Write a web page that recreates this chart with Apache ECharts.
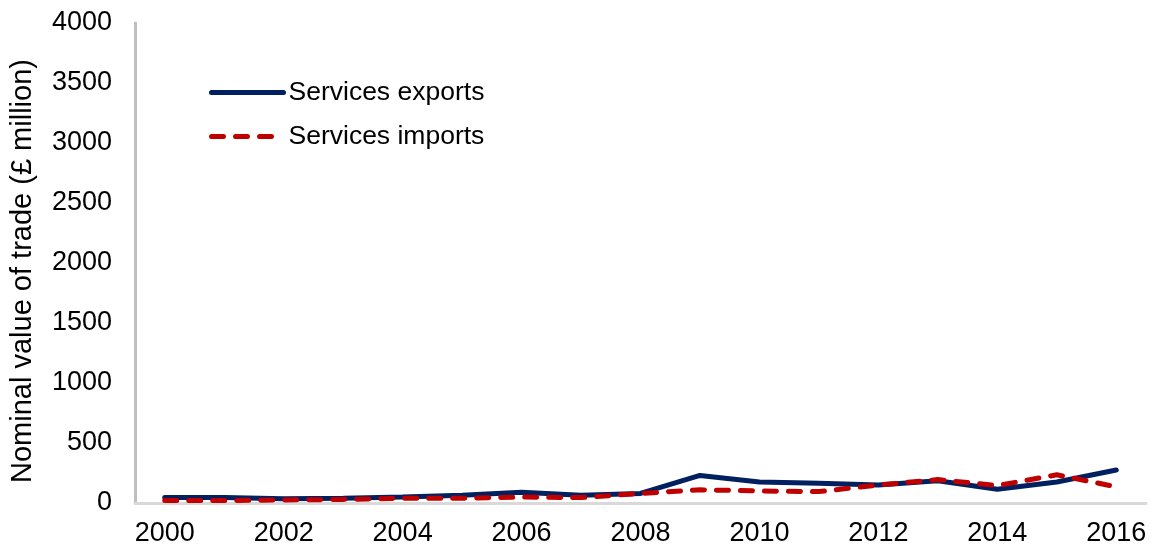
<!DOCTYPE html>
<html>
<head>
<meta charset="utf-8">
<script src="https://cdn.jsdelivr.net/npm/echarts@6/dist/echarts.min.js"></script>
<style>
  html, body { margin: 0; padding: 0; background: #fff; }
  #chart { width: 1156px; height: 549px; }
</style>
</head>
<body>
<div id="chart"></div>
<script>
const years = ['2000', '2001', '2002', '2003', '2004', '2005', '2006', '2007', '2008',
  '2009', '2010', '2011', '2012', '2013', '2014', '2015', '2016'];
const servicesExports = [45, 45, 35, 40, 50, 65, 90, 65, 80, 230, 175, 165, 150, 185, 115, 175, 275];
const servicesImports = [20, 20, 25, 30, 40, 40, 50, 45, 80, 110, 100, 95, 150, 195, 145, 235, 135];

const chart = echarts.init(document.getElementById('chart'));
const font = 'Liberation Sans, Arial, sans-serif';

chart.setOption({
  animation: false,
  textStyle: { fontFamily: font },
  grid: { left: 135, right: 10, top: 23, bottom: 46, outerBoundsMode: 'none' },
  legend: {
    orient: 'vertical',
    left: 204,
    top: 74,
    itemWidth: 72,
    itemHeight: 14,
    itemGap: 17,
    itemStyle: { opacity: 0 },
    lineStyle: { width: 5 },
    textStyle: { fontSize: 26.5, color: '#000', fontFamily: font },
    data: ['Services exports', 'Services imports']
  },
  xAxis: {
    type: 'category',
    data: years,
    axisLine: { lineStyle: { color: '#d9d9d9', width: 3 } },
    axisTick: { show: false },
    axisLabel: { interval: 1, fontSize: 27, color: '#000', margin: 17 }
  },
  yAxis: {
    type: 'value',
    min: 0,
    max: 4000,
    interval: 500,
    name: 'Nominal value of trade (£ million)',
    nameLocation: 'middle',
    nameGap: 98,
    nameTextStyle: { fontSize: 29, color: '#000', padding: [0, 16, 0, 0] },
    axisLine: { show: true, lineStyle: { color: '#bfbfbf', width: 3 } },
    axisTick: { show: false },
    splitLine: { show: false },
    axisLabel: { fontSize: 27, color: '#000', margin: 23, formatter: v => String(v) }
  },
  series: [
    {
      name: 'Services exports',
      type: 'line',
      data: servicesExports,
      symbol: 'none',
      lineStyle: { color: '#002060', width: 5, cap: 'round' },
      itemStyle: { color: '#002060' }
    },
    {
      name: 'Services imports',
      type: 'line',
      data: servicesImports,
      symbol: 'none',
      lineStyle: { color: '#c00000', width: 5, type: [12, 12], cap: 'round' },
      itemStyle: { color: '#c00000' }
    }
  ]
});

window.addEventListener('resize', function () {
  chart.resize();
});
</script>
</body>
</html>
